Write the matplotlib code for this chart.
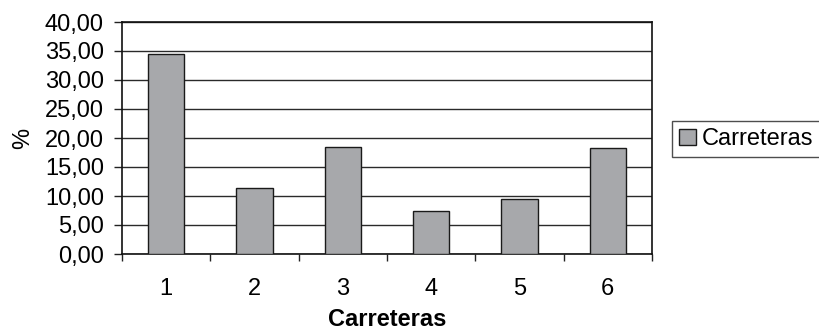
import matplotlib
matplotlib.use("Agg")
import matplotlib.pyplot as plt
from matplotlib.ticker import MultipleLocator, FuncFormatter, FixedLocator

categories = ["1", "2", "3", "4", "5", "6"]
values = [34.5, 11.3, 18.5, 7.5, 9.5, 18.2]
series_name = "Carreteras"

plt.rcParams["font.family"] = ["Liberation Sans", "DejaVu Sans"]
FS = 17

fig = plt.figure(figsize=(8.2, 3.33), dpi=100)
ax = fig.add_axes([122 / 820, 1 - 254 / 333, 530 / 820, 232 / 333])

x = list(range(len(categories)))
ax.bar(x, values, width=0.41, color="#a7a8ab", edgecolor="#1a1a1a",
       linewidth=1.0, label=series_name, zorder=3)

ax.set_xlim(-0.5, len(categories) - 0.5)
ax.set_ylim(0, 40)
ax.yaxis.set_major_locator(MultipleLocator(5))
ax.yaxis.set_major_formatter(FuncFormatter(lambda v, p: f"{v:.2f}".replace(".", ",")))
ax.yaxis.grid(True, color="#2a2a2a", linewidth=1.0, zorder=0)

ax.set_xticks(x)
ax.set_xticklabels(categories)
ax.tick_params(axis="x", which="major", length=0, pad=17, labelsize=FS)
ax.xaxis.set_minor_locator(FixedLocator([i + 0.5 for i in range(-1, len(categories))]))
ax.tick_params(axis="x", which="minor", length=5, width=1, color="#222222", direction="out")
ax.tick_params(axis="y", length=6, width=1, color="#222222", direction="out", labelsize=FS, pad=7)

for s in ax.spines.values():
    s.set_color("#111111")
    s.set_linewidth(1.2)

ax.set_xlabel("Carreteras", fontsize=FS, fontweight="bold", labelpad=6)
ax.set_ylabel("%", fontsize=FS, labelpad=8)

leg = ax.legend(loc="upper left", bbox_to_anchor=(672 / 820, 1 - 121 / 333),
                bbox_transform=fig.transFigure, fontsize=FS, frameon=True,
                fancybox=False, shadow=False, handlelength=0.7, handleheight=0.7,
                handletextpad=0.25, borderpad=0.3, borderaxespad=0)
leg.get_frame().set_edgecolor("#222222")
leg.get_frame().set_linewidth(1.0)

fig.savefig("out.png", dpi=100)
